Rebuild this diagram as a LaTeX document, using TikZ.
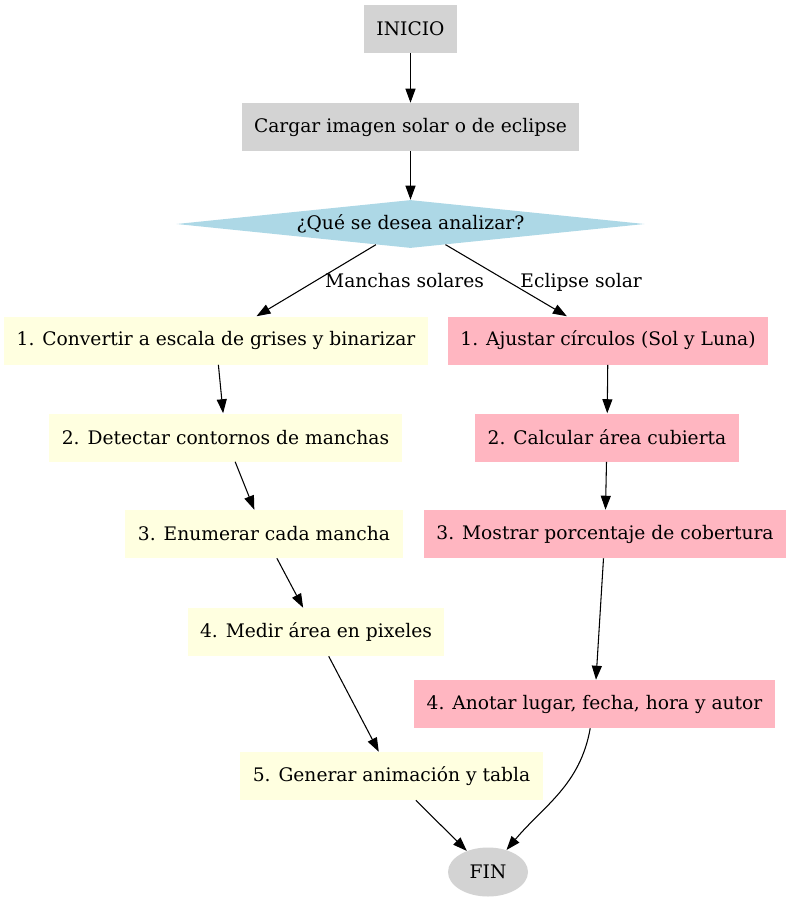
\documentclass[tikz,border=0pt]{standalone}
\usepackage{fontspec}
\setmainfont{DejaVu Serif}
\usetikzlibrary{arrows.meta,shapes.geometric}
\definecolor{startgray}{HTML}{D3D3D3}
\definecolor{askblue}{HTML}{ADD8E6}
\definecolor{spotyellow}{HTML}{FFFFE0}
\definecolor{eclpink}{HTML}{FFB6C1}
\tikzset{>={Triangle[length=10.5pt,width=7.5pt]}}
\tikzset{
  stepbox/.style={rectangle, fill=#1, minimum height=36pt, minimum width=54pt,
    inner xsep=9.4pt, inner ysep=0pt},
  askbox/.style={diamond, aspect=9.75, fill=askblue, inner sep=0pt,
    minimum width=351pt, minimum height=36pt},
  endbox/.style={ellipse, fill=startgray, inner sep=0pt,
    minimum width=60pt, minimum height=36.75pt},
  flow/.style={->, line width=0.8pt},
  branch/.style={font=\fontsize{14}{17}\selectfont, right=3pt}
}

\begin{document}
\begin{tikzpicture}[x=0.75pt,y=-0.75pt,font=\fontsize{14}{17}\selectfont]
    \useasboundingbox (0,0) rectangle (790,903);
    \node[stepbox=startgray] (ini) at (410.5,28.5) {INICIO};
    \node[stepbox=startgray] (load) at (410.5,127) {Cargar imagen solar o de eclipse};
    \node[askbox] (ask) at (410.5,224) {¿Qué se desea analizar?};
    % manchas solares
    \node[stepbox=spotyellow] (s1) at (216,340.5) {1. Convertir a escala de grises y binarizar};
    \node[stepbox=spotyellow] (s2) at (225.5,437.5) {2. Detectar contornos de manchas};
    \node[stepbox=spotyellow] (s3) at (264,534) {3. Enumerar cada mancha};
    \node[stepbox=spotyellow] (s4) at (316,632) {4. Medir área en pixeles};
    \node[stepbox=spotyellow] (s5) at (391.5,776) {5. Generar animación y tabla};
    % eclipse solar
    \node[stepbox=eclpink] (e1) at (608,340.5) {1. Ajustar círculos (Sol y Luna)};
    \node[stepbox=eclpink] (e2) at (607,437.5) {2. Calcular área cubierta};
    \node[stepbox=eclpink] (e3) at (605,534) {3. Mostrar porcentaje de cobertura};
    \node[stepbox=eclpink] (e4) at (594.5,704) {4. Anotar lugar, fecha, hora y autor};
    \node[endbox] (fin) at (488,872) {FIN};

    \draw[flow] (ini) -- (load);
    \draw[flow] (load) -- (ask);
    \draw[flow] (ask) -- node[branch] {Manchas solares} (s1);
    \draw[flow] (ask) -- node[branch, xshift=4pt, yshift=-1.5pt] {Eclipse solar} (e1);
    \draw[flow] (s1) -- (s2);
    \draw[flow] (s2) -- (s3);
    \draw[flow] (s3) -- (s4);
    \draw[flow] (s4) -- (s5);
    \draw[flow] (s5) -- (fin);
    \draw[flow] (e1) -- (e2);
    \draw[flow] (e2) -- (e3);
    \draw[flow] (e3) -- (e4);
    \draw[flow] (e4) to[out=-100,in=50] (fin);
\end{tikzpicture}
\end{document}
